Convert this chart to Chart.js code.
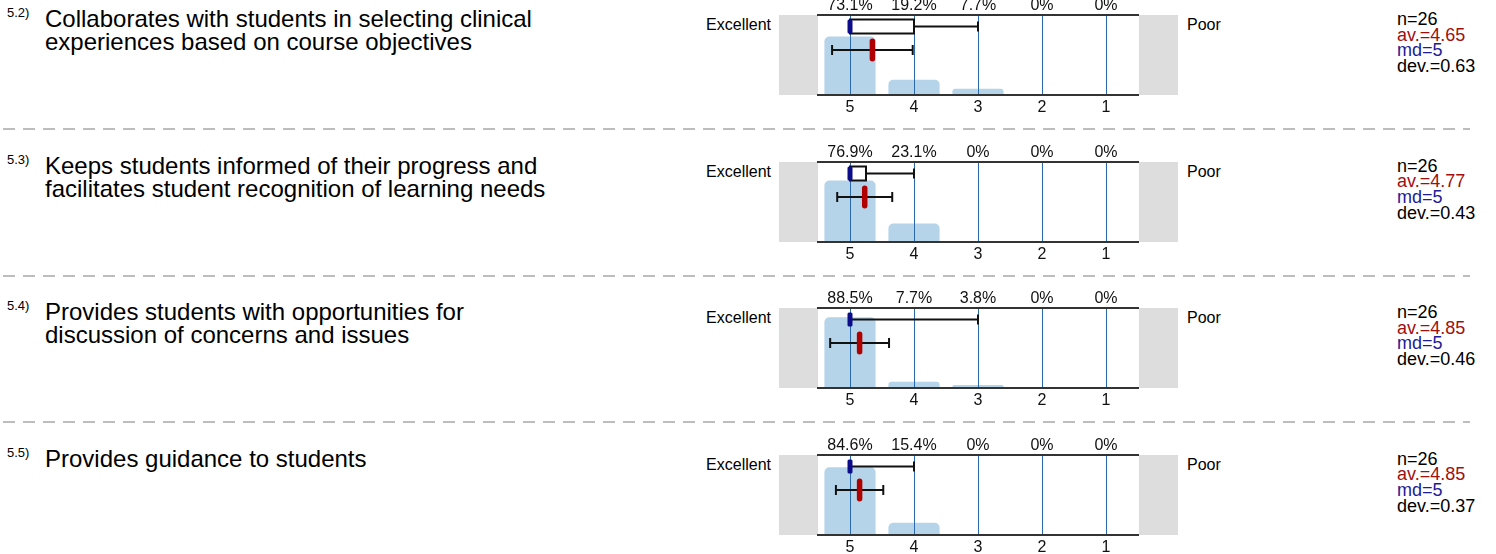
<!DOCTYPE html>
<html>
<head>
<meta charset="utf-8">
<title>Survey results</title>
<script src="https://cdn.jsdelivr.net/npm/chart.js@4.4.0/dist/chart.umd.min.js"></script>
<style>
  body {
    margin: 0;
    width: 1496px;
    height: 554px;
    overflow: hidden;
    position: relative;
    background: #fff;
    color: #000;
    font-family: "Liberation Sans", Arial, sans-serif;
  }
  .row { position: absolute; left: 0; width: 1496px; height: 146px; }
  .qnum { position: absolute; left: 7px; top: -9px; font-size: 13px; line-height: 13px; }
  .qtext { position: absolute; left: 45px; top: -8px; font-size: 24px; line-height: 23px; white-space: nowrap; }
  .chartbox { position: absolute; left: 779px; top: -20px; width: 400px; height: 122px; }
  .excellent { position: absolute; left: 671px; width: 100px; text-align: right; top: 1px; font-size: 16px; line-height: 18px; }
  .poor { position: absolute; left: 1187px; top: 1px; font-size: 16px; line-height: 18px; }
  .stats { position: absolute; left: 1397px; top: -3px; font-size: 18px; line-height: 15.7px; white-space: nowrap; }
  .av { color: #a01010; }
  .md { color: #1c1c96; }
  .sep {
    position: absolute; left: 3px; top: 113px; width: 1467px; height: 2px;
    background: repeating-linear-gradient(to right, #bdbdbd 0 12px, transparent 12px 20px);
  }
</style>
</head>
<body>
<div id="page"></div>
<script>
// answer scale, left = best
const scaleValues = [5, 4, 3, 2, 1];

const questionIds = ["5.2)", "5.3)", "5.4)", "5.5)"];
const questionTexts = [
  ["Collaborates with students in selecting clinical", "experiences based on course objectives"],
  ["Keeps students informed of their progress and", "facilitates student recognition of learning needs"],
  ["Provides students with opportunities for", "discussion of concerns and issues"],
  ["Provides guidance to students"]
];

// percent of answers per scale value (5..1)
const percentages = [
  [73.1, 19.2, 7.7, 0, 0],
  [76.9, 23.1, 0, 0, 0],
  [88.5, 7.7, 3.8, 0, 0],
  [84.6, 15.4, 0, 0, 0]
];

const counts = [26, 26, 26, 26];
const means = [4.65, 4.77, 4.85, 4.85];
const medians = [5, 5, 5, 5];
const deviations = [0.63, 0.43, 0.46, 0.37];

// box plot: quartiles and whisker ends
const upperQuartiles = [5, 5, 5, 5];
const lowerQuartiles = [4, 4.75, 5, 5];
const whiskerHighs = [5, 5, 5, 5];
const whiskerLows = [3, 4, 3, 4];

Chart.defaults.font.family = '"Liberation Sans", Arial, sans-serif';
Chart.defaults.font.size = 16;
Chart.defaults.color = '#111';

const rowTop = i => 15 + 146.5 * i;

const greyBoxes = {
  id: 'greyBoxes',
  beforeDraw(chart) {
    const a = chart.chartArea;
    const ctx = chart.ctx;
    ctx.save();
    ctx.fillStyle = '#dddddd';
    ctx.fillRect(a.left - 39, a.top, 39, a.bottom - a.top);
    ctx.fillRect(a.right + 1, a.top, 39, a.bottom - a.top);
    ctx.restore();
  }
};

function hLine(ctx, x1, x2, y) {
  ctx.beginPath();
  ctx.moveTo(x1, y);
  ctx.lineTo(x2, y);
  ctx.stroke();
}
function cap(ctx, x, y) {
  ctx.beginPath();
  ctx.moveTo(x, y - 5);
  ctx.lineTo(x, y + 5);
  ctx.stroke();
}

const boxPlot = {
  id: 'boxPlot',
  afterDraw(chart, args, opts) {
    const i = opts.row;
    const ctx = chart.ctx;
    const px = v => chart.scales.x.getPixelForValue(v);
    const top = chart.chartArea.top;
    const by = top + 11.5;
    const ey = top + 35;

    ctx.save();
    ctx.strokeStyle = '#111';
    ctx.lineWidth = 2;

    // whiskers
    if (whiskerLows[i] !== lowerQuartiles[i]) {
      hLine(ctx, px(lowerQuartiles[i]), px(whiskerLows[i]), by);
      cap(ctx, px(whiskerLows[i]), by);
    }
    if (whiskerHighs[i] !== upperQuartiles[i]) {
      hLine(ctx, px(upperQuartiles[i]), px(whiskerHighs[i]), by);
      cap(ctx, px(whiskerHighs[i]), by);
    }
    // box
    if (lowerQuartiles[i] !== upperQuartiles[i]) {
      const x1 = px(upperQuartiles[i]);
      const x2 = px(lowerQuartiles[i]);
      ctx.fillStyle = '#fff';
      ctx.fillRect(x1, by - 7, x2 - x1, 14);
      ctx.strokeRect(x1, by - 7, x2 - x1, 14);
    }
    // median
    ctx.fillStyle = '#0c0c8a';
    ctx.beginPath();
    ctx.roundRect(px(medians[i]) - 2.5, by - 7, 5, 14, 1.5);
    ctx.fill();

    // mean +- deviation
    hLine(ctx, px(means[i] + deviations[i]), px(means[i] - deviations[i]), ey);
    cap(ctx, px(means[i] + deviations[i]), ey);
    cap(ctx, px(means[i] - deviations[i]), ey);
    ctx.fillStyle = '#b00000';
    ctx.beginPath();
    ctx.roundRect(px(means[i]) - 2.75, ey - 11.5, 5.5, 23, 2.75);
    ctx.fill();
    ctx.restore();
  }
};

function makeRow(i) {
  const row = document.createElement('div');
  row.className = 'row';
  row.style.top = rowTop(i) + 'px';
  row.innerHTML =
    `<div class="qnum">${questionIds[i]}</div>` +
    `<div class="qtext">${questionTexts[i].join('<br>')}</div>` +
    `<div class="excellent">Excellent</div>` +
    `<div class="chartbox"><canvas width="400" height="122"></canvas></div>` +
    `<div class="poor">Poor</div>` +
    `<div class="stats">n=${counts[i]}<br><span class="av">av.=${means[i].toFixed(2)}</span><br>` +
    `<span class="md">md=${medians[i]}</span><br>dev.=${deviations[i].toFixed(2)}</div>` +
    `<div class="sep"></div>`;
  document.getElementById('page').appendChild(row);

  const setTicks = s => { s.ticks = scaleValues.map(v => ({ value: v })); };

  new Chart(row.querySelector('canvas'), {
    type: 'bar',
    data: {
      datasets: [{
        data: scaleValues.map((v, j) => ({ x: v, y: percentages[i][j] })),
        backgroundColor: '#b5d4ea',
        borderRadius: 5,
        barPercentage: 0.8,
        categoryPercentage: 1
      }]
    },
    options: {
      responsive: false,
      animation: false,
      layout: { padding: { left: 39, right: 41, top: 0, bottom: 0 } },
      plugins: {
        legend: { display: false },
        tooltip: { enabled: false },
        boxPlot: { row: i }
      },
      scales: {
        x: {
          type: 'linear', position: 'bottom', min: 0.5, max: 5.5, reverse: true, offset: false,
          afterBuildTicks: setTicks,
          afterFit: s => { s.height = 22; },
          grid: { color: '#2a69ac', lineWidth: 1, drawTicks: false, offset: false, z: 1 },
          border: { color: '#333', width: 2, z: 1 },
          ticks: { padding: 3, maxRotation: 0, autoSkip: false, callback: v => String(v) }
        },
        xTop: {
          type: 'linear', position: 'top', min: 0.5, max: 5.5, reverse: true, offset: false,
          afterBuildTicks: setTicks,
          afterFit: s => { s.height = 20; },
          grid: { display: false, drawTicks: false, offset: false },
          border: { color: '#333', width: 2, z: 1 },
          ticks: {
            padding: 0, maxRotation: 0, autoSkip: false,
            callback: v => percentages[i][scaleValues.indexOf(v)] + '%'
          }
        },
        y: { display: false, min: 0, max: 100 }
      }
    },
    plugins: [greyBoxes, boxPlot]
  });
}

for (let i = 0; i < questionIds.length; i++) {
  makeRow(i);
}
</script>
</body>
</html>
